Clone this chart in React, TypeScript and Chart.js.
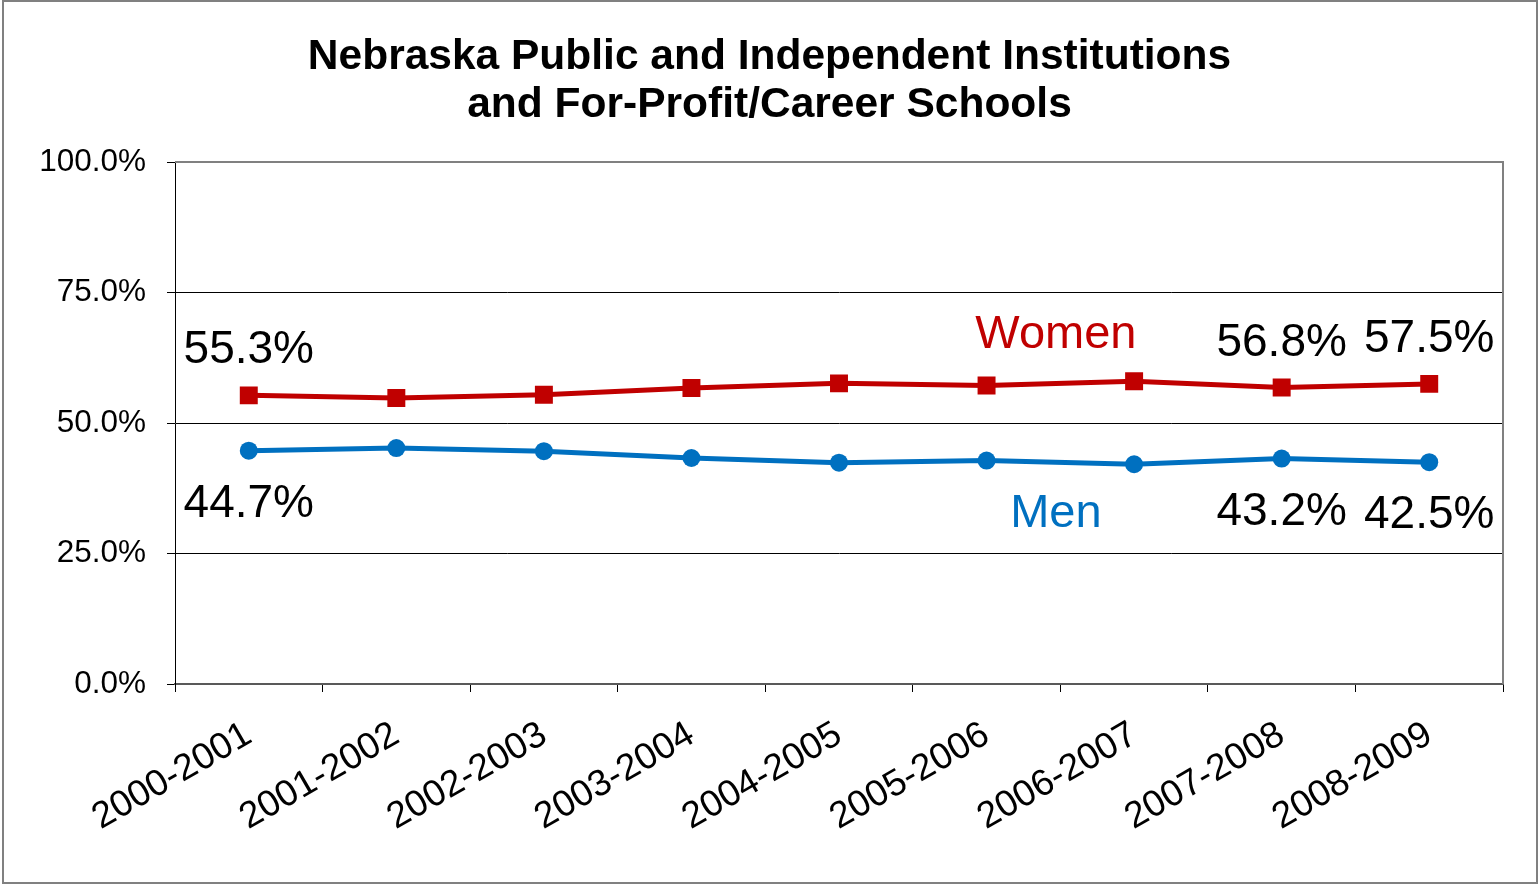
import React, { useEffect, useRef } from 'react';
import { Chart, registerables } from 'chart.js';

Chart.register(...registerables);

const categories = ['2000-2001', '2001-2002', '2002-2003', '2003-2004', '2004-2005', '2005-2006', '2006-2007', '2007-2008', '2008-2009'];
const womenValues = [55.3, 54.8, 55.4, 56.7, 57.6, 57.2, 58.0, 56.8, 57.5];
const menValues = [44.7, 45.2, 44.6, 43.3, 42.4, 42.8, 42.1, 43.2, 42.5];
const labelledIndices = [0, 7, 8];
const titleLines = ['Nebraska Public and Independent Institutions', 'and For-Profit/Career Schools'];
const seriesNames = ['Women', 'Men'];
const seriesColors = ['#C00000', '#0070C0'];
const yTickStep = 25;

const FONT = "'Liberation Sans', Arial, sans-serif";

const framePlugin = {
  id: 'frame',
  beforeDraw(chart: any) {
    const { ctx, width, height } = chart;
    ctx.save();
    ctx.fillStyle = '#ffffff';
    ctx.fillRect(0, 0, width, height);
    ctx.strokeStyle = '#808080';
    ctx.lineWidth = 2;
    ctx.strokeRect(3, 1, 1534, 882);
    ctx.restore();
  },
  beforeDatasetsDraw(chart: any) {
    const { ctx, chartArea } = chart;
    ctx.save();
    ctx.strokeStyle = '#808080';
    ctx.lineWidth = 2;
    ctx.beginPath();
    ctx.moveTo(chartArea.left, chartArea.top);
    ctx.lineTo(chartArea.right, chartArea.top);
    ctx.lineTo(chartArea.right, chartArea.bottom);
    ctx.stroke();
    ctx.restore();
  },
};

const labelsPlugin = {
  id: 'valueLabels',
  afterDatasetsDraw(chart: any) {
    const { ctx } = chart;
    const xs = chart.scales.x;
    const ys = chart.scales.y;
    ctx.save();
    ctx.textAlign = 'center';
    ctx.textBaseline = 'alphabetic';
    chart.data.datasets.forEach((ds: any, di: number) => {
      const meta = chart.getDatasetMeta(di);
      ctx.font = `46px ${FONT}`;
      ctx.fillStyle = '#000000';
      labelledIndices.forEach((i) => {
        const pt = meta.data[i];
        const txt = ds.data[i].toFixed(1) + '%';
        const y = di === 0 ? pt.y - 32 : pt.y + 66;
        ctx.fillText(txt, pt.x, y);
      });
    });
    const nameOpts = chart.options.plugins.valueLabels;
    ctx.font = `47px ${FONT}`;
    seriesNames.forEach((name, di) => {
      ctx.fillStyle = seriesColors[di];
      const x = xs.getPixelForValue(nameOpts.nameIndex);
      const y = ys.getPixelForValue(nameOpts.nameValues[di]);
      ctx.fillText(name, x, y);
    });
    ctx.restore();
  },
};

export default function App() {
  const ref = useRef<HTMLCanvasElement | null>(null);

  useEffect(() => {
    if (!ref.current) return;
    const chart = new Chart(ref.current, {
      type: 'line',
      data: {
        labels: categories,
        datasets: [
          {
            label: seriesNames[0],
            data: womenValues,
            borderColor: seriesColors[0],
            backgroundColor: seriesColors[0],
            borderWidth: 5,
            pointStyle: 'rect',
            pointRadius: 12.7,
            pointBorderWidth: 0,
            pointBackgroundColor: seriesColors[0],
            tension: 0,
            yAxisID: 'y',
          },
          {
            label: seriesNames[1],
            data: menValues,
            borderColor: seriesColors[1],
            backgroundColor: seriesColors[1],
            borderWidth: 5,
            pointStyle: 'circle',
            pointRadius: 9,
            pointBorderWidth: 0,
            pointBackgroundColor: seriesColors[1],
            tension: 0,
            yAxisID: 'y',
          },
        ],
      },
      options: {
        animation: false,
        responsive: true,
        maintainAspectRatio: false,
        layout: { padding: { left: 0, right: 0, top: 0, bottom: 0 } },
        plugins: {
          legend: { display: false },
          tooltip: { enabled: false },
          title: {
            display: true,
            text: titleLines,
            color: '#000000',
            font: { family: FONT, size: 42.5, weight: 'bold', lineHeight: 1.13 },
            padding: { top: 33, bottom: 33 },
          },
          valueLabels: { nameIndex: 5.47, nameValues: [64.4, 30.1] },
        } as any,
        scales: {
          x: {
            offset: true,
            grid: { offset: true, drawOnChartArea: false, color: '#000000', tickLength: 8 },
            border: { color: '#595959', width: 2 },
            ticks: {
              minRotation: 30,
              maxRotation: 30,
              color: '#000000',
              font: { family: FONT, size: 37 },
              padding: 21,
              autoSkip: false,
            },
            afterFit: (s: any) => {
              s.height = 201;
            },
          },
          y: {
            min: 0,
            max: 100,
            ticks: {
              stepSize: yTickStep,
              color: '#000000',
              font: { family: FONT, size: 31.5 },
              padding: 21,
              callback: (v: any) => Number(v).toFixed(1) + '%',
            },
            grid: {
              color: (c: any) => (c.tick && c.tick.value === 100 ? '#808080' : '#000000'),
              tickColor: '#000000',
              tickLength: 8,
            },
            border: { color: '#000000', width: 1 },
            afterFit: (s: any) => {
              s.width = 175;
            },
          },
          yRight: {
            position: 'right',
            display: true,
            min: 0,
            max: 100,
            ticks: { display: false },
            grid: { display: false, drawOnChartArea: false },
            border: { display: false },
            afterFit: (s: any) => {
              s.width = 36;
            },
          },
        },
      },
      plugins: [framePlugin, labelsPlugin],
    });
    return () => chart.destroy();
  }, []);

  return (
    <div style={{ position: 'absolute', left: 0, top: 0, width: 1539, height: 885 }}>
      <canvas ref={ref} />
    </div>
  );
}
